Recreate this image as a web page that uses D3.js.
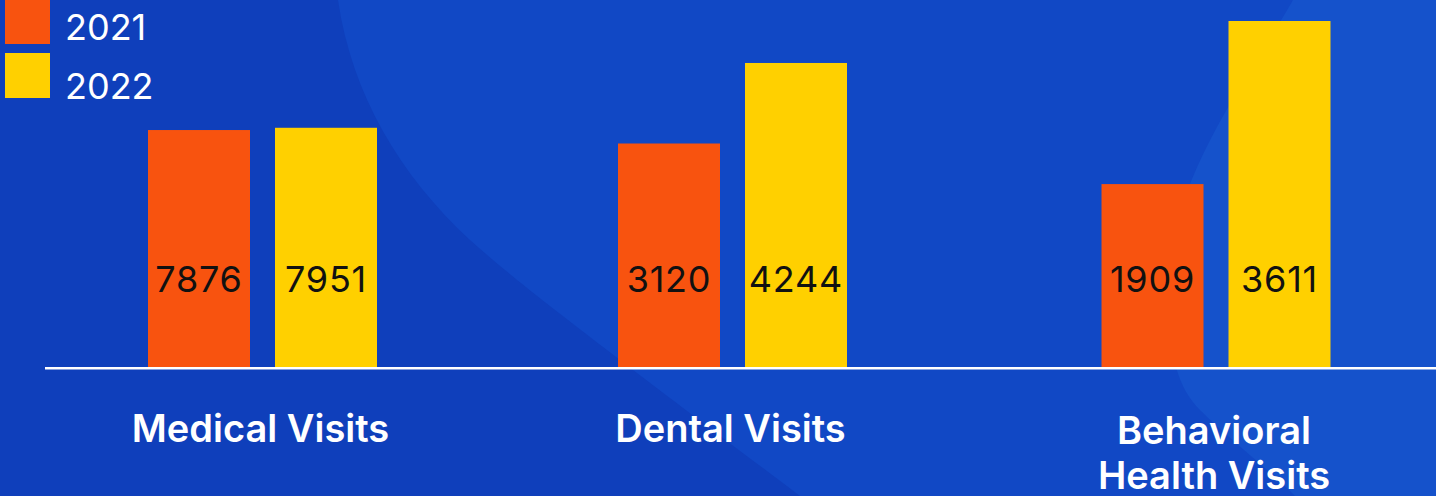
<!DOCTYPE html>
<html>
<head>
<meta charset="utf-8">
<script src="https://cdn.jsdelivr.net/npm/d3@7"></script>
<style>
  html, body { margin: 0; padding: 0; background: #0f3fbb; overflow: hidden; }
  text { font-family: "Inter", "Open Sans", sans-serif; }
</style>
</head>
<body>
<div id="chart"></div>
<script>
const WIDTH = 1436;
const HEIGHT = 496;

// data
const categories = ["Medical Visits", "Dental Visits", "Behavioral Health Visits"];
const categoryLines = [["Medical Visits"], ["Dental Visits"], ["Behavioral", "Health Visits"]];
const years = ["2021", "2022"];
const values2021 = [7876, 3120, 1909];
const values2022 = [7951, 4244, 3611];
// every group has its own value axis in the original
const groupAxisMax = [11500, 4830, 3611];

const colors = { "2021": "#f8530f", "2022": "#ffd000" };

const svg = d3.select("#chart").append("svg")
    .attr("width", WIDTH)
    .attr("height", HEIGHT);

// background shapes
svg.append("rect").attr("width", WIDTH).attr("height", HEIGHT).attr("fill", "#0f3fbb");
svg.append("path")
    .attr("d", "M338,0 C352,95 400,175 470,240 C520,285 600,345 800,496 L1436,496 L1436,0 Z")
    .attr("fill", "#1148c5");
svg.append("path")
    .attr("d", "M1293,0 C1250,75 1185,160 1172,250 C1165,330 1170,380 1200,410 C1230,440 1270,470 1295,496 L1436,496 L1436,0 Z")
    .attr("fill", "#1552cb");

const baseY = 367;
const topY = 21;

// group centres are not evenly spaced in the original
const x = d3.scaleOrdinal()
    .domain(categories)
    .range([262.5, 732.5, 1216]);

const xInner = d3.scaleBand()
    .domain(years)
    .range([-114.5, 114.5])
    .paddingInner(25 / 127);

const yScales = groupAxisMax.map(m => d3.scaleLinear().domain([0, m]).range([baseY, topY]));

const rows = [];
categories.forEach((c, i) => {
  rows.push({ cat: c, i: i, year: "2021", value: values2021[i] });
  rows.push({ cat: c, i: i, year: "2022", value: values2022[i] });
});

const barX = d => x(d.cat) + xInner(d.year);

const bars = svg.append("g").attr("class", "bars");
bars.selectAll("rect")
  .data(rows)
  .enter()
  .append("rect")
  .attr("x", barX)
  .attr("width", xInner.bandwidth())
  .attr("y", d => yScales[d.i](d.value))
  .attr("height", d => baseY - yScales[d.i](d.value))
  .attr("fill", d => colors[d.year]);

bars.selectAll("text")
  .data(rows)
  .enter()
  .append("text")
  .attr("x", d => barX(d) + xInner.bandwidth() / 2)
  .attr("y", 292)
  .attr("text-anchor", "middle")
  .attr("font-size", 36)
  .attr("letter-spacing", 0.8)
  .attr("fill", "#111")
  .text(d => d.value);

// baseline axis line
svg.append("line")
  .attr("x1", 45).attr("x2", WIDTH)
  .attr("y1", baseY + 1.2).attr("y2", baseY + 1.2)
  .attr("stroke", "#fff")
  .attr("stroke-width", 2.5);

// category labels
const labels = svg.append("g").attr("class", "labels");
categories.forEach((c, i) => {
  const t = labels.append("text")
    .attr("x", x(c) - 2)
    .attr("y", categoryLines[i].length > 1 ? 444 : 442)
    .attr("text-anchor", "middle")
    .attr("font-size", 38)
    .attr("font-weight", 600)
    .attr("fill", "#fff");
  categoryLines[i].forEach((line, j) => {
    t.append("tspan")
      .attr("x", x(c) - 2)
      .attr("dy", j === 0 ? 0 : 45)
      .text(line);
  });
});

// legend
const legend = svg.append("g").attr("class", "legend");
years.forEach((yr, i) => {
  legend.append("rect")
    .attr("x", 5).attr("y", -1 + i * 54)
    .attr("width", 45).attr("height", 45)
    .attr("fill", colors[yr]);
  legend.append("text")
    .attr("x", 65).attr("y", 40 + i * 59)
    .attr("font-size", 36)
    .attr("fill", "#fff")
    .text(yr);
});
</script>
</body>
</html>
